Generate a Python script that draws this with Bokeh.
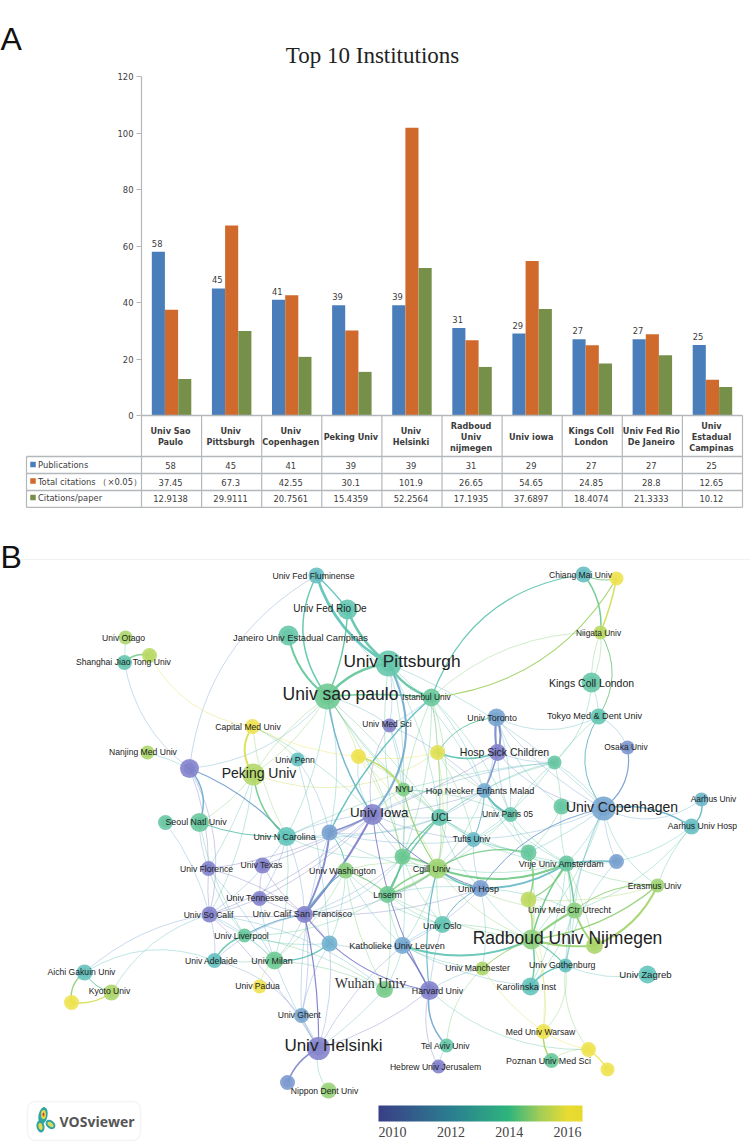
from bokeh.plotting import figure
from bokeh.models import (Range1d, FixedTicker, ColumnDataSource, LinearColorMapper,
                          ColorBar, BoxAnnotation, NumeralTickFormatter)
from bokeh.layouts import column
from bokeh.transform import dodge, transform
from bokeh.core.properties import value
from bokeh.embed import file_html
from bokeh.resources import INLINE

# ---------- panel A data ----------
institutions = ["Univ Sao\nPaulo", "Univ\nPittsburgh", "Univ\nCopenhagen", "Peking Univ", "Univ\nHelsinki",
                "Radboud\nUniv\nnijmegen", "Univ iowa", "Kings Coll\nLondon", "Univ Fed Rio\nDe Janeiro",
                "Univ\nEstadual\nCampinas"]
publications = [58, 45, 41, 39, 39, 31, 29, 27, 27, 25]
total_citations = [37.45, 67.3, 42.55, 30.1, 101.9, 26.65, 54.65, 24.85, 28.8, 12.65]
citations_per_paper = [12.9138, 29.9111, 20.7561, 15.4359, 52.2564, 17.1935, 37.6897, 18.4074, 21.3333, 10.12]
series_names = ["Publications", "Total citations \uff08\u00d70.05\uff09", "Citations/paper"]
y_ticks = [0, 20, 40, 60, 80, 100, 120]

BLUE, ORANGE, GREEN = "#4a7ebb", "#cf6a2c", "#76904a"
NARROW = "DejaVu Sans Condensed, Liberation Sans"
GRID = "#b4b8bb"
TXT = "#3c3c3c"

# ---------- panel B data (positions, in page pixels) ----------
node_key = ["flum","rio","camp","otago","gy","shang","cap","nanj","bp","peking","penn","seoulx","seoul","ncar","blue2",
            "sao","pitt","ist","medsci","tor","hsc","lg","yl","teal1","nyu","hop","paris","g1","cop","aau",
            "aah","osaka","tokyo","kings","niig","chiang","yc","iowa","ucl","tufts","g2","cgill","wash","texas","flor",
            "tenn","socal","ucsf","liver","adel","milan","teal2","padua","aichi","kyoto","y3","ghent","hels","b3","nipp",
            "ins","hosp","vrije","b4","g3","eras","yg1","utr","rad","yg2","oslo","leuv","manc","goth","karo",
            "zag","wuh","harv","wars","tel","heb","pozn","y4","y5"]
node_x = [316,347,288,125,149,124,252,147,189,253,297,165,199,286,329,
          327,388,431,389,496,497,437,358,554,403,484,510,561,603,701,
          691,627,598,591,600,583,616,372,439,473,402,437,345,262,208,
          259,209,304,244,214,274,329,259,84,111,71,301,318,287,328,
          387,480,566,616,528,657,528,574,531,594,442,402,482,565,530,
          647,384,429,543,446,438,551,588,607]
node_y = [575,609,635,637,655,662,726,752,768,774,759,822,822,836,832,
          696,663,697,725,717,752,752,756,762,789,790,814,806,808,799,
          826,747,716,682,632,574,578,814,817,839,856,868,870,865,868,
          898,914,914,935,960,960,943,986,972,992,1002,1015,1048,1082,1090,
          894,888,863,861,852,885,899,910,939,945,924,945,968,965,986,
          974,989,990,1031,1045,1066,1060,1049,1069]
node_r = [8,10,10,7,7.5,7.5,7.5,7,9.5,11,7,7.5,9.5,9.5,8,
          13,13,9,7,9,8.5,7.5,7.5,7,7,7.5,7.5,8,12,7,
          8,7,8,10,7,8,7,10.5,8.5,7.5,8,10,8,8,7.5,
          7.5,8,8.5,7,7.5,9,8,7,8,8,7.5,7.5,11.5,7.5,8,
          8.5,8.5,8,7.5,8,7,8,8,10,8.5,8.5,8.5,7,7,9,
          9,8.5,9.5,7.5,7,7,7.5,7.5,7]
node_year = [2012.7,2013.3,2013.5,2015,2015.2,2013.3,2016.3,2015,2010.5,2015.1,2012.8,2013.6,2013.7,2013,2011.7,
             2014,2013.4,2013.8,2010.7,2011.8,2010.5,2015.8,2016.3,2013.6,2014.3,2012,2013.4,2013.6,2011.8,2012.4,
             2012.7,2011.4,2013.3,2013.5,2015.2,2012.7,2016,2010.6,2013.3,2012.5,2014,2014.8,2014.5,2010.5,2010.5,
             2010.5,2010.5,2010.4,2013.8,2012.8,2014,2012.2,2016.3,2012.9,2015,2016.3,2011.8,2010.7,2011.5,2014.7,
             2014,2011.6,2013.6,2011.7,2013.7,2014.8,2015.3,2014.5,2014.5,2015,2013.2,2011.9,2015,2012.8,2013,
             2013,2014.2,2010.4,2016.3,2013.5,2010.5,2013.8,2016.1,2016.2]

label_text = ["Univ Fed Fluminense","Univ Fed Rio De","Janeiro Univ Estadual Campinas","Univ Otago","Shanghai Jiao Tong Univ",
              "Capital Med Univ","Nanjing Med Univ","Peking Univ","Univ Penn","Seoul Natl Univ","Univ N Carolina",
              "Univ sao paulo","Univ Pittsburgh","Istanbul Univ","Univ Med Sci","Univ Toronto","Hosp Sick Children","NYU",
              "Hop Necker Enfants Malad","Univ Paris 05","Univ Copenhagen","Aarhus Univ","Aarhus Univ Hosp","Osaka Univ",
              "Tokyo Med & Dent Univ","Kings Coll London","Niigata Univ","Chiang Mai Univ","Univ Iowa","UCL","Tufts Univ",
              "Cgill Univ","Univ Washington","Univ Texas","Univ Florence","Univ Tennessee","Univ So Calif",
              "Univ Calif San Francisco","Univ Liverpool","Univ Adelaide","Univ Milan","Univ Padua","Aichi Gakuin Univ",
              "Kyoto Univ","Univ Ghent","Univ Helsinki","Nippon Dent Univ","Lnserm","Univ Hosp","Vrije Univ Amsterdam",
              "Erasmus Univ","Univ Med Ctr Utrecht","Radboud Univ Nijmegen","Univ Oslo","Katholieke Univ Leuven",
              "Univ Manchester","Univ Gothenburg","Karolinska Inst","Univ Zagreb","Harvard Univ","Med Univ Warsaw",
              "Tel Aviv Univ","Hebrew Univ Jerusalem","Poznan Univ Med Sci"]
label_x = [313,329.5,300,123,123,247.5,142.5,258.5,294.5,195.5,284,
           340,401.5,426,386.5,491.7,504,403.7,479.5,507,621.5,713,702,625.5,
           594,591,598,580,378.7,441,471,431,342,261,206,257,208,301.7,241,211,271.5,257,81,
           109,298.7,333,324,387,478,561,654,569,567,441.7,396.5,477,561.7,525.7,645,437,540,
           445,435,548]
label_y = [575,608,637,637,661,726,751,772,759,821,836,
           693,660,696,723,717,751,788,790,813,806,798,825.5,746,
           715.5,682,632,574,812,817,838,868,870,864,868,897,914,913,935,960,960,985,971,
           990,1014,1045,1090,894,888,863,885,909,937,925,945,967,964,986,974,990,1031,
           1045,1066,1060]
label_size = [8.7,10,9.3,8.6,8.6,8.6,8.6,14,8.6,8.9,8.9,
              17.5,17.3,8.4,8.4,8.9,10.5,8.6,9.1,8.6,14,8.4,8.6,8.4,
              9.1,10.5,8.4,8.6,13.3,10,8.4,8.9,8.9,8.6,8.6,8.8,8.6,9.1,8.6,8.6,8.9,8.6,8.6,
              8.6,8.6,17,8.6,8.6,8.9,8.9,8.6,8.9,17.5,8.9,9.1,8.6,8.8,9.1,9.6,8.8,8.6,
              8.6,8.6,8.9]

serif_label = "Wuhan Univ"

# links: (from, to, bend, width) -- the visible, stronger links of the map
strong_links = [
 ("flum","sao",-.31,1.5),("flum","pitt",-.2,2.5),("flum","rio",.05,1.5),("rio","sao",.1,1.5),("rio","pitt",-.15,2.5),
 ("camp","sao",-.2,2),("sao","pitt",.2,2.5),("pitt","ist",-.2,2.5),("sao","ist",.05,1.5),("pitt","iowa",.33,2),
 ("sao","iowa",-.12,1.5),("shang","gy",.3,1.5),("blue2","ist",.1,1.5),("bp","seoul",.3,1.5),("bp","ncar",.12,1.2),
 ("cap","peking",-.35,2),("peking","ncar",-.2,1.5),("yl","nyu",.2,1.5),("lg","hsc",-.2,1.5),("lg","tor",.25,1),
 ("tor","hsc",.2,2),("tor","hsc",-.1,2),("hsc","hop",.05,1.5),("hop","paris",-.2,2),("chiang","niig",.2,1.5),
 ("yc","niig",.05,1.5),("yc","ist",.25,1.2),("chiang","ist",-.3,1.2),("chiang","yc",-.2,1),("niig","tokyo",.3,1),
 ("tokyo","cop",-.35,1),("osaka","cop",.3,1.2),("cop","aah",.2,1.5),("aau","aah",.3,1.5),("cop","hosp",-.2,1),
 ("vrije","b4",.05,1.5),("vrije","hosp",.15,2),("cgill","hosp",-.15,1.5),("cgill","vrije",-.2,2),("rad","utr",.05,2),
 ("rad","yg2",-.1,2),("rad","karo",.15,1.5),("leuv","rad",-.2,2),("rad","eras",-.15,1.5),("yg2","eras",-.2,2),
 ("utr","yg2",-.1,2),("utr","eras",.2,1),("vrije","utr",.05,1.5),("rad","vrije",.1,1.5),("rad","yg1",-.1,1.5),
 ("yg1","g3",-.2,1.5),("rad","goth",.1,1.2),("karo","goth",.2,1.5),("wars","pozn",-.2,1.5),("y4","y5",.1,1.5),
 ("harv","tel",-.25,1.5),("leuv","harv",.05,1.5),("harv","cgill",.1,1.2),("hels","b3",-.2,1.5),("adel","liver",.2,1.5),
 ("liver","ucsf",.1,1.2),("teal2","milan",.2,1.5),("aichi","y3",-.3,1.5),("kyoto","y3",.2,1.5),("aichi","kyoto",-.2,1),
 ("iowa","ucsf",.06,2),("iowa","blue2",.05,1.5),("ucsf","blue2",-.1,2),("ucsf","hels",.06,1.2),("ucsf","harv",-.2,1.2),
 ("g2","cgill",.1,1.5),("g2","ins",.1,1.5),("ins","cgill",.15,1.5),("ins","cgill",-.1,1.5),("g2","ucl",.1,1.5),
 ("ucl","ins",-.1,1.2),("wash","ins",.1,1.2),("wash","blue2",-.2,1),("wash","ucsf",-.1,1.2),("hop","tufts",.1,1),
 ("ncar","seoul",.1,1),("nyu","cgill",-.1,1.2),("iowa","hosp",-.15,1),("iowa","harv",-.1,1),("g3","cgill",-.2,1.2),
 ("oslo","hosp",.2,1),("yg1","vrije",-.2,1.2),("manc","rad",.1,1),
]
# the fainter links
faint_links = [
 ("flum","ist",-.2),("flum","bp",-.25),("otago","shang",0),("shang","bp",-.2),("gy","cap",-.25),("nanj","bp",.05),
 ("bp","sao",-.2),("bp","socal",.2),("bp","flor",.1),("cap","penn",.1),("cap","ncar",-.1),("cap","iowa",.1),("cap","yl",-.1),
 ("peking","lg",-.25),("peking","seoul",.1),("peking","socal",.1),("peking","flor",.05),("peking","sao",-.1),
 ("penn","teal2",.05),("penn","blue2",.1),("seoulx","socal",.1),("seoul","flor",-.1),("seoul","liver",-.1),
 ("ncar","ucsf",.1),("ncar","iowa",.1),("ncar","socal",.1),("ncar","milan",.1),("ncar","tenn",.1),("ncar","ucl",-.1),
 ("ncar","g2",-.15),("iowa","tenn",.1),("iowa","texas",.05),("iowa","socal",.1),("iowa","tufts",-.1),("iowa","g2",-.1),
 ("iowa","ucl",-.05),("iowa","nyu",.1),("iowa","medsci",.2),("iowa","yl",.2),("iowa","teal1",.1),("iowa","flor",.1),
 ("ucsf","texas",.1),("ucsf","tenn",.05),("ucsf","socal",.05),("ucsf","flor",-.1),("ucsf","milan",.1),("ucsf","teal2",.05),
 ("ucsf","ghent",.1),("ucsf","g2",-.2),("ucsf","tufts",-.2),("ucsf","ucl",-.15),("ucsf","hosp",-.1),
 ("blue2","ncar",.15),("blue2","tufts",-.1),("blue2","hop",-.2),("blue2","cgill",-.15),("blue2","ghent",-.1),
 ("sao","yl",.1),("sao","medsci",.1),("sao","nyu",-.05),("sao","ucl",.05),("sao","blue2",.12),("sao","g2",.1),("sao","tufts",-.1),
 ("sao","peking",-.1),("sao","ncar",.1),("pitt","cop",.1),("pitt","ucl",.1),("pitt","hop",.1),("pitt","nyu",.08),("pitt","medsci",.1),
 ("pitt","g2",-.1),("ist","nyu",-.05),("ist","ucl",.05),("ist","lg",.05),("ist","hop",.1),("ist","paris",.1),("ist","g2",.1),
 ("ist","medsci",.05),("ist","cgill",.15),("ist","niig",.2),("medsci","nyu",.1),("medsci","hop",.1),("medsci","g2",.1),
 ("yl","lg",-.1),("yl","ucl",.1),("yl","cgill",.1),("yl","g2",.1),("lg","ucl",.05),("lg","hop",-.1),("lg","cgill",.1),("lg","tufts",.1),
 ("tor","tokyo",-.25),("tor","hop",.1),("tor","paris",.1),("tor","g1",-.15),("tor","cop",-.1),("hsc","paris",-.1),("hsc","iowa",.05),
 ("hsc","cop",-.2),("hsc","teal1",-.1),("teal1","tokyo",.05),("teal1","ucl",-.1),("teal1","hop",-.1),("teal1","tufts",.1),
 ("teal1","ncar",-.1),("teal1","cop",.1),("teal1","kings",-.2),("teal1","g1",.05),("teal1","paris",-.1),("kings","tokyo",.1),
 ("kings","niig",.1),("kings","niig",-.15),("tokyo","osaka",.2),("cop","aau",-.3),("cop","vrije",.1),("cop","eras",-.2),
 ("cop","utr",-.1),("cop","goth",-.1),("cop","rad",.1),("cop","tufts",.1),("cop","g3",.05),("cop","b4",-.1),("aah","vrije",.2),
 ("aah","utr",.15),("aah","eras",-.1),("g1","g3",.1),("g1","vrije",-.1),("hop","ucl",-.05),("hop","nyu",.05),("hop","cgill",.1),
 ("hop","g3",-.1),("hop","iowa",.08),("hop","vrije",-.15),("paris","tufts",.1),("paris","g3",-.1),("paris","ucl",.05),("paris","vrije",-.1),
 ("paris","cgill",.1),("ucl","cgill",.1),("ucl","hosp",-.15),("ucl","tufts",.05),("ucl","vrije",-.1),("ucl","g3",-.15),("tufts","cgill",.1),
 ("tufts","vrije",-.1),("tufts","hosp",-.1),("tufts","g3",-.05),("g2","hosp",-.1),("g2","oslo",-.1),("g2","vrije",-.15),("g2","leuv",.05),
 ("cgill","leuv",.1),("cgill","oslo",-.1),("cgill","rad",-.15),("cgill","utr",-.15),("cgill","ins",.05),("wash","cgill",.15),("wash","milan",.1),
 ("wash","leuv",-.1),("wash","oslo",-.15),("wash","teal2",.1),("wash","wuh",-.1),("ins","oslo",-.1),("ins","leuv",-.1),("ins","wuh",.1),
 ("ins","rad",-.1),("ins","liver",.15),("ins","hosp",.1),("hosp","leuv",.1),("hosp","rad",-.1),("hosp","manc",.1),("hosp","utr",.1),
 ("vrije","eras",-.1),("vrije","goth",.1),("vrije","yg2",.05),("vrije","karo",.1),("g3","utr",.1),("g3","rad",.1),("b4","goth",-.15),
 ("eras","yg1",.1),("utr","goth",.05),("utr","karo",.1),("oslo","rad",.1),("oslo","leuv",-.1),("oslo","harv",-.05),("leuv","wuh",.1),
 ("leuv","manc",-.1),("leuv","karo",-.1),("leuv","teal2",.1),("leuv","hels",-.1),("manc","harv",-.1),("manc","tel",-.2),("manc","wars",-.1),
 ("rad","wars",.15),("goth","zag",-.15),("goth","wars",.25),("goth","y4",-.2),("yg1","wars",.1),("wars","y4",-.1),("pozn","y4",.2),
 ("harv","y4",-.2),("harv","heb",-.2),("tel","heb",-.1),("harv","wuh",-.1),("harv","hels",.1),("wuh","hels",.05),("wuh","milan",-.1),
 ("wuh","socal",-.15),("wuh","liver",-.1),("hels","nipp",-.25),("hels","ghent",.05),("hels","teal2",-.1),("hels","adel",-.25),("hels","milan",.05),
 ("hels","socal",-.08),("ghent","teal2",.1),("teal2","liver",.1),("milan","padua",-.2),("milan","flor",-.05),("milan","socal",-.1),("milan","adel",.05),
 ("milan","tenn",.05),("milan","liver",-.05),("socal","aichi",-.15),("socal","kyoto",-.2),("adel","aichi",-.25),("socal","flor",.05),("socal","tenn",-.05),
 ("socal","liver",-.05),("socal","adel",.1),("tenn","texas",.05),("flor","liver",-.1),("adel","ucsf",.15),("nyu","ucl",.05),("nyu","g2",.05),("nyu","paris",.1),
]

# colour scales of the map: the printed bar, and the paler tones of the marks
year_low, year_high = 2009.52, 2016.51
bar_stops = [(0.0, (58, 63, 134)), (0.36, (42, 127, 144)), (0.64, (47, 181, 125)),
             (0.79, (160, 205, 88)), (0.93, (232, 220, 50)), (1.0, (232, 216, 46))]
mark_stops = [(0.0, (112, 110, 195)), (0.2, (118, 118, 198)), (0.36, (100, 165, 205)), (0.5, (80, 190, 180)),
              (0.64, (90, 195, 135)), (0.79, (165, 210, 90)), (0.93, (236, 224, 60)), (1.0, (236, 224, 60))]
year_ticks = [2010, 2012, 2014, 2016]


def palette(stops):
    out = []
    for i in range(256):
        f = i / 255
        for (a, ca), (b, cb) in zip(stops, stops[1:]):
            if f <= b:
                t = (f - a) / (b - a)
                out.append("#%02x%02x%02x" % tuple(int(round(u + (v - u) * t)) for u, v in zip(ca, cb)))
                break
    return out


# ---------- panel A ----------
A_TOP, A_ZERO, A_BOTTOM, A_LEFT, A_RIGHT = 76, 415, 508, 141, 742
unit = (A_ZERO - A_TOP) / 120
pa = figure(width=750, height=A_BOTTOM, output_backend="svg", toolbar_location=None,
            x_range=Range1d(0, len(institutions)),
            y_range=Range1d(-(A_BOTTOM - A_ZERO) / unit, 120),
            min_border_left=A_LEFT, min_border_right=750 - A_RIGHT, min_border_top=A_TOP, min_border_bottom=0,
            outline_line_color=None, background_fill_color="white", border_fill_color="white")
pa.frame_align = False
pa.extra_x_ranges = {"px": Range1d(A_LEFT, A_RIGHT)}
pa.extra_y_ranges = {"px": Range1d(A_BOTTOM, A_TOP)}
pa.xgrid.visible = False
pa.ygrid.visible = False
pa.xaxis.visible = False
ax = pa.yaxis[0]
ax.ticker = FixedTicker(ticks=y_ticks)
ax.axis_line_color = GRID
ax.axis_line_width = 1.2
ax.major_tick_line_color = GRID
ax.major_tick_in = 0
ax.major_tick_out = 5
ax.minor_tick_line_color = None
ax.major_label_standoff = 3
ax.major_label_text_font = NARROW
ax.major_label_text_font_size = "9.3px"
ax.major_label_text_color = TXT

src = ColumnDataSource(dict(slot=[i + .5 for i in range(len(institutions))], pub=publications, tot=total_citations,
                            cit=citations_per_paper, pub_label=[str(v) for v in publications]))
STEP, BW = 0.2195, 0.218
for col, off, color in (("pub", -STEP, BLUE), ("tot", 0, ORANGE), ("cit", STEP, GREEN)):
    pa.vbar(x=dodge("slot", off), top=col, bottom=0, width=BW, source=src, fill_color=color, line_color=None)
pa.text(x=dodge("slot", -STEP - 0.02), y="pub", text="pub_label", source=src,
        y_offset=-5, text_align="center", text_baseline="bottom", text_font=value(NARROW),
        text_font_size="9.3px", text_color=TXT, level="overlay")

# table of panel A
col_w = (A_RIGHT - A_LEFT) / 10
col_edge = [A_LEFT + i * col_w for i in range(11)]
col_mid = [A_LEFT + (i + .5) * col_w - 1 for i in range(10)]
row_edge = [A_ZERO, 456, 473, 490, 507]
row_mid = [465, 482, 498]
swatch_y = [464, 480.5, 497]
PX = dict(x_range_name="px", y_range_name="px", level="overlay")
pa.segment(x0=[A_LEFT] * 1 + [26] * 4, x1=[A_RIGHT] * 5, y0=row_edge, y1=row_edge, line_color=GRID, line_width=1.3, **PX)
pa.segment(x0=col_edge[1:] + [26], x1=col_edge[1:] + [26], y0=[A_ZERO] * 10 + [456], y1=[507] * 11,
           line_color=GRID, line_width=1.2, **PX)
pa.text(x=col_mid, y=[436] * 10, text=institutions, text_align="center", text_baseline="middle",
        text_font=value(NARROW), text_font_style="bold", text_font_size="9px", text_color=TXT, text_line_height=1.1, **PX)
for row, vals in zip(row_mid, (publications, total_citations, citations_per_paper)):
    pa.text(x=col_mid, y=[row] * 10, text=[str(v) for v in vals], text_align="center", text_baseline="middle",
            text_font=value(NARROW), text_font_size="9.3px", text_color=TXT, **PX)
pa.rect(x=[32.5] * 3, y=swatch_y, width=5.5, height=5.5, fill_color=[BLUE, ORANGE, GREEN], line_color=None, **PX)
pa.text(x=[37.5] * 3, y=swatch_y, text=series_names, text_align="left", text_baseline="middle",
        text_font=value(NARROW), text_font_size="9.3px", text_color=TXT, **PX)
pa.text(x=[372], y=[55], text=["Top 10 Institutions"], text_align="center", text_baseline="middle",
        text_font=value("Liberation Serif"), text_font_size="23px", text_color="#222222", **PX)
pa.text(x=[0], y=[38.5], text=["A"], text_align="left", text_baseline="middle",
        text_font=value("Liberation Sans"), text_font_size="32px", text_color="#111111", **PX)

# ---------- panel B ----------
B_TOP = A_BOTTOM
pb = figure(width=750, height=1146 - B_TOP, output_backend="svg", toolbar_location=None,
            x_range=Range1d(0, 750), y_range=Range1d(1146, B_TOP),
            min_border=0, outline_line_color=None, background_fill_color="white", border_fill_color="white")
pb.frame_align = False
pb.axis.visible = False
pb.grid.visible = False

bar_mapper = LinearColorMapper(palette=palette(bar_stops), low=year_low, high=year_high)
mapper = LinearColorMapper(palette=palette(mark_stops), low=year_low, high=year_high)
pos = {k: (x, y, yr) for k, x, y, yr in zip(node_key, node_x, node_y, node_year)}


def link_source(links, alpha):
    d = dict(x0=[], y0=[], x1=[], y1=[], cx=[], cy=[], year=[], w=[], a=[])
    for link in links:
        a, b, bend = link[:3]
        w = link[3] if len(link) > 3 else 0.8
        xa, ya, ra = pos[a]
        xb, yb, rb = pos[b]
        d["x0"].append(xa); d["y0"].append(ya); d["x1"].append(xb); d["y1"].append(yb)
        d["cx"].append((xa + xb) / 2 + bend * (yb - ya))
        d["cy"].append((ya + yb) / 2 - bend * (xb - xa))
        d["year"].append((ra + rb) / 2); d["w"].append(w); d["a"].append(alpha)
    return ColumnDataSource(d)


pb.segment(x0=[20], x1=[750], y0=[559], y1=[559], line_color="#f2f2f2", line_width=1)
for links, alpha in ((faint_links, .45), (strong_links, .85)):
    pb.quadratic(x0="x0", y0="y0", x1="x1", y1="y1", cx="cx", cy="cy", source=link_source(links, alpha),
                 line_color=transform("year", mapper), line_width="w", line_alpha="a")

nsrc = ColumnDataSource(dict(x=node_x, y=node_y, r=node_r, inner=[r * .62 for r in node_r], year=node_year))
pb.circle(x="x", y="y", radius="r", source=nsrc, fill_color="white", fill_alpha=.5, line_color=None)
pb.circle(x="x", y="y", radius="r", source=nsrc, fill_color=transform("year", mapper), fill_alpha=.8, line_color=None)
pb.circle(x="x", y="y", radius="inner", source=nsrc, fill_color=transform("year", mapper), fill_alpha=.35, line_color=None)

pb.text(x=label_x, y=label_y, text=label_text, text_align="center", text_baseline="middle",
        text_font=value("Liberation Sans"), text_font_size=[f"{s}px" for s in label_size], text_color="#222222")
pb.text(x=[370], y=[983], text=[serif_label], text_align="center", text_baseline="middle",
        text_font=value("Liberation Serif"), text_font_size="14px", text_color="#333333")
pb.text(x=[0], y=[556], text=["B"], text_align="left", text_baseline="middle",
        text_font=value("Liberation Sans"), text_font_size="32px", text_color="#111111")

# colour bar
bar = ColorBar(color_mapper=bar_mapper, orientation="horizontal", width=204, height=16, location=(378, 7),
               ticker=FixedTicker(ticks=year_ticks), major_tick_line_color=None, minor_tick_line_color=None,
               bar_line_color=None, border_line_color=None, background_fill_color=None, padding=0,
               major_label_text_font="Liberation Serif", major_label_text_font_size="14px",
               major_label_text_color="#444444", label_standoff=5, formatter=NumeralTickFormatter(format="0"))
pb.add_layout(bar, "center")

# VOSviewer logo
pb.add_layout(BoxAnnotation(left=27, right=140, top=1101, bottom=1140, fill_color="white", fill_alpha=1,
                            line_color="#dcdcdc", line_width=1.5, border_radius=8, level="underlay"))
pb.ellipse(x=[42.5, 50, 40, 43, 50, 40, 43], y=[1115, 1124, 1126, 1114, 1124, 1126, 1114],
           width=[9, 11, 8, 5, 7, 4, 2], height=[17, 8, 12, 9, 4, 7, 4],
           angle=[-.2, -.7, .2, 0, -.7, .2, 0],
           fill_color=["#2fa5a0", "#2fa5a0", "#2fa5a0", "#e8d84a", "#d8d860", "#e8d84a", "#d8432a"],
           line_color=None, level="overlay")
pb.text(x=[59], y=[1120.5], text=["VOSviewer"], text_align="left", text_baseline="middle",
        text_font=value("Open Sans"), text_font_style="bold", text_font_size="14px", text_color="#555555", level="overlay")

page = column(pa, pb, spacing=0)
open("out.html", "w").write(file_html(page, INLINE))
